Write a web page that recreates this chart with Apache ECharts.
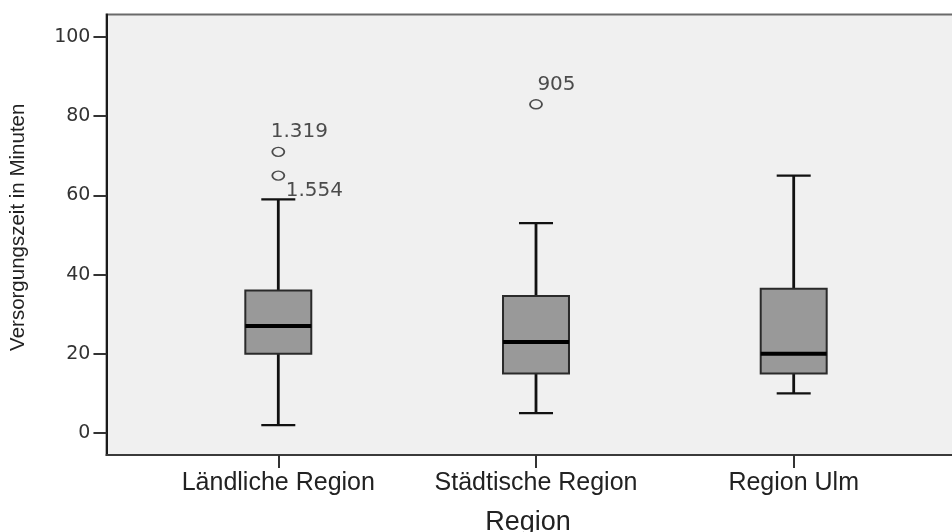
<!DOCTYPE html>
<html>
<head>
<meta charset="utf-8">
<script src="https://cdn.jsdelivr.net/npm/echarts@6/dist/echarts.min.js"></script>
<style>
html,body{margin:0;padding:0;background:#fff;}
#chart{width:952px;height:532px;}
</style>
</head>
<body>
<div id="chart"></div>
<script>
const categories = ['Ländliche Region', 'Städtische Region', 'Region Ulm'];
const whiskerLow = [2, 5, 10];
const q1 = [20, 15, 15];
const median = [27, 23, 20];
const q3 = [36, 34.6, 36.4];
const whiskerHigh = [59, 53, 65];
const outlierCategory = [0, 0, 1];
const outlierValue = [71, 65, 83];
const outlierLabel = ['1.319', '1.554', '905'];
const yTicks = [0, 20, 40, 60, 80, 100];

const labelPositions = [[-0.6, -15.2], [14.4, 20.5], [8.3, -14.8]];

const boxData = categories.map((c, i) => [i, whiskerLow[i], q1[i], median[i], q3[i], whiskerHigh[i]]);
const outlierData = outlierValue.map((v, i) => ({
  value: [outlierCategory[i], v],
  name: outlierLabel[i],
  label: { position: labelPositions[i] }
}));

const chart = echarts.init(document.getElementById('chart'));
const option = {
  animation: false,
  backgroundColor: '#ffffff',
  grid: [
    { left: 149.45, right: 29.45, top: 14.5, bottom: 77, containLabel: false, outerBoundsMode: 'none' },
    { left: 106.5, right: -14, top: 14.5, bottom: 77, containLabel: false, outerBoundsMode: 'none',
      show: true, backgroundColor: '#f0f0f0', borderColor: '#6a6a6a', borderWidth: 2, z: 0 }
  ],
  xAxis: [
    {
      type: 'category', gridIndex: 0, data: categories, boundaryGap: true,
      axisLine: { show: false, onZero: false },
      axisTick: { show: true, alignWithLabel: true, length: 13, lineStyle: { color: '#333', width: 2 } },
      axisLabel: { margin: 15.5, interval: 0, fontFamily: 'Liberation Sans', fontSize: 25, color: '#222' },
      name: 'Region', nameLocation: 'middle', nameGap: 54.5,
      nameTextStyle: { fontFamily: 'Liberation Sans', fontSize: 27, color: '#222', padding: [0, 16, 0, 0] },
      splitLine: { show: false }
    },
    {
      type: 'value', gridIndex: 1, min: 0, max: 1,
      axisLine: { show: true, onZero: false, lineStyle: { color: '#3a3a3a', width: 2 } },
      axisTick: { show: false }, axisLabel: { show: false }, splitLine: { show: false }
    }
  ],
  yAxis: [
    {
      type: 'value', gridIndex: 0, min: -5.56, max: 105.68, offset: 43,
      axisLine: { show: true, onZero: false, lineStyle: { color: '#1a1a1a', width: 2 } },
      axisTick: { show: true, length: 13, customValues: yTicks, lineStyle: { color: '#333', width: 2 } },
      axisLabel: { margin: 16, customValues: yTicks, fontFamily: 'DejaVu Sans', fontSize: 19, color: '#333' },
      splitLine: { show: false },
      name: 'Versorgungszeit in Minuten', nameLocation: 'middle', nameGap: 78,
      nameTextStyle: { fontFamily: 'Liberation Sans', fontSize: 20.5, color: '#222', padding: [0, 0, 0, 15] }
    },
    {
      type: 'value', gridIndex: 1, min: 0, max: 1,
      axisLine: { show: false }, axisTick: { show: false }, axisLabel: { show: false }, splitLine: { show: false }
    }
  ],
  series: [
    {
      type: 'custom', xAxisIndex: 0, yAxisIndex: 0, z: 5,
      encode: { x: 0, y: [1, 2, 3, 4, 5] },
      data: boxData,
      renderItem: function (params, api) {
        const x = api.value(0);
        const pLow = api.coord([x, api.value(1)]);
        const pQ1 = api.coord([x, api.value(2)]);
        const pMed = api.coord([x, api.value(3)]);
        const pQ3 = api.coord([x, api.value(4)]);
        const pHigh = api.coord([x, api.value(5)]);
        const band = api.size([1, 0])[0];
        const bw = band * 0.128;
        const cw = band * 0.066;
        const cx = pLow[0];
        const vStyle = { stroke: '#111', lineWidth: 2.8 };
        const cStyle = { stroke: '#111', lineWidth: 2.2 };
        return {
          type: 'group',
          children: [
            { type: 'line', shape: { x1: cx, y1: pHigh[1], x2: cx, y2: pQ3[1] }, style: vStyle },
            { type: 'line', shape: { x1: cx, y1: pQ1[1], x2: cx, y2: pLow[1] }, style: vStyle },
            { type: 'line', shape: { x1: cx - cw, y1: pHigh[1], x2: cx + cw, y2: pHigh[1] }, style: cStyle },
            { type: 'line', shape: { x1: cx - cw, y1: pLow[1], x2: cx + cw, y2: pLow[1] }, style: cStyle },
            { type: 'rect', shape: { x: cx - bw, y: pQ3[1], width: bw * 2, height: pQ1[1] - pQ3[1] },
              style: { fill: '#999999', stroke: '#2a2a2a', lineWidth: 2 } },
            { type: 'line', shape: { x1: cx - bw, y1: pMed[1], x2: cx + bw, y2: pMed[1] },
              style: { stroke: '#000', lineWidth: 4 } }
          ]
        };
      }
    },
    {
      type: 'scatter', xAxisIndex: 0, yAxisIndex: 0, z: 6,
      symbol: 'circle', symbolSize: [12, 9],
      itemStyle: { color: 'rgba(0,0,0,0)', borderColor: '#222', borderWidth: 1.6 },
      data: outlierData,
      label: {
        show: true, formatter: '{b}', align: 'left', verticalAlign: 'middle',
        fontFamily: 'DejaVu Sans', fontSize: 20, color: '#222'
      }
    }
  ]
};
chart.setOption(option);
</script>
</body>
</html>
